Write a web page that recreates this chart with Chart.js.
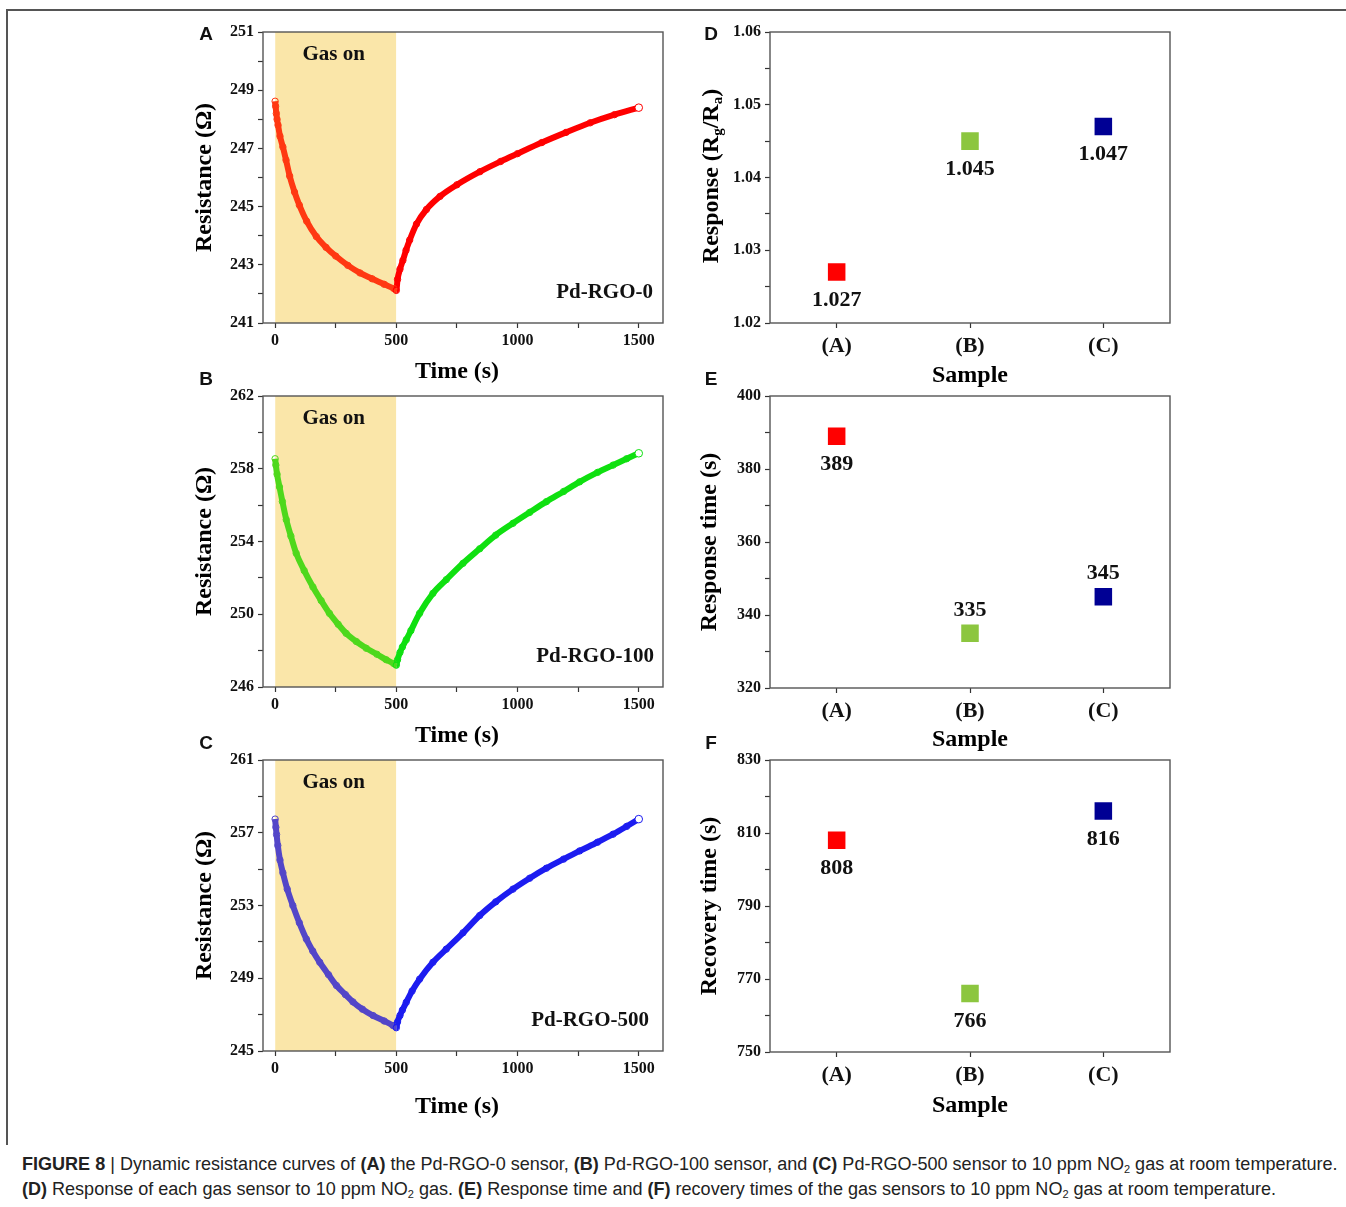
<!DOCTYPE html>
<html>
<head>
<meta charset="utf-8">
<title>Figure 8</title>
<script src="https://cdn.jsdelivr.net/npm/chart.js@4.4.1/dist/chart.umd.min.js"></script>
<style>
  body { margin: 0; background: #fff; }
  #fig { position: relative; width: 1346px; height: 1207px; overflow: hidden; }
  canvas { position: absolute; }
  .rule { position: absolute; background: #555; }
  .letter { position: absolute; transform: translate(-50%, -50%); font: bold 19px "Liberation Sans", Arial, sans-serif; color: #111; }
  .ytitle { position: absolute; transform: translate(-50%, -50%) rotate(-90deg); white-space: nowrap;
            font: bold 24px "Liberation Serif", "Times New Roman", serif; color: #000; }
  .ytitle sub { font-size: 15px; vertical-align: -4px; line-height: 0; }
  #caption { position: absolute; left: 22px; top: 1152px; font-family: "Liberation Sans", Arial, sans-serif;
             font-size: 16px; color: #222; white-space: nowrap; }
  #caption p { margin: 0; height: 25px; line-height: 25px; }
  #caption sub { font-size: 11px; vertical-align: -3px; line-height: 0; }
</style>
</head>
<body>
<div id="fig">
  <div class="rule" style="left:6px; top:9px; width:1340px; height:1.5px"></div>
  <div class="rule" style="left:6px; top:9px; width:1.5px; height:1136px"></div>

  <canvas id="chartA" width="500" height="374" style="left:180px; top:16px"></canvas>
  <canvas id="chartB" width="500" height="374" style="left:180px; top:380px"></canvas>
  <canvas id="chartC" width="500" height="381" style="left:180px; top:744px"></canvas>
  <canvas id="chartD" width="500" height="378" style="left:690px; top:16px"></canvas>
  <canvas id="chartE" width="500" height="378" style="left:690px; top:380px"></canvas>
  <canvas id="chartF" width="500" height="380" style="left:690px; top:744px"></canvas>

  <div class="letter" style="left:206px; top:34px">A</div>
  <div class="letter" style="left:206px; top:379px">B</div>
  <div class="letter" style="left:206px; top:743px">C</div>
  <div class="letter" style="left:711px; top:34px">D</div>
  <div class="letter" style="left:711px; top:379px">E</div>
  <div class="letter" style="left:711px; top:743px">F</div>

  <div class="ytitle" style="left:710px; top:176px">Response (R<sub>g</sub>/R<sub>a</sub>)</div>

  <div id="caption">
    <p id="cap1"><b>FIGURE 8</b> | Dynamic resistance curves of <b>(A)</b> the Pd-RGO-0 sensor, <b>(B)</b> Pd-RGO-100 sensor, and <b>(C)</b> Pd-RGO-500 sensor to 10 ppm NO<sub>2</sub> gas at room temperature.</p>
    <p><b>(D)</b> Response of each gas sensor to 10 ppm NO<sub>2</sub> gas. <b>(E)</b> Response time and <b>(F)</b> recovery times of the gas sensors to 10 ppm NO<sub>2</sub> gas at room temperature.</p>
  </div>
</div>

<script>
// resistance transients, time in s, resistance in ohm
const timeA = [0, 2, 5, 8, 12, 20, 32, 45, 60, 80, 100, 130, 170, 210, 250, 300, 350, 400, 450, 490,
               500, 505, 515, 527, 540, 555, 583, 624, 680, 750, 845, 930, 1000, 1100, 1200, 1300, 1400, 1500];
const resA = [248.62, 248.45, 248.2, 248.0, 247.8, 247.42, 247.05, 246.6, 246.05, 245.5, 245.05, 244.5, 243.97, 243.6, 243.3, 242.98, 242.72, 242.52, 242.33, 242.18,
              242.12, 242.5, 242.85, 243.15, 243.5, 243.85, 244.4, 244.9, 245.35, 245.75, 246.2, 246.55, 246.82, 247.2, 247.55, 247.88, 248.16, 248.4];

const timeB = [0, 3, 8, 18, 30, 46, 65, 87, 120, 156, 190, 224, 260, 293, 335, 376, 420, 458, 490, 500,
               505, 515, 525, 541, 560, 596, 651, 706, 775, 844, 910, 981, 1050, 1119, 1190, 1256, 1330, 1394, 1450, 1500];
const resB = [258.55, 258.2, 257.7, 257.0, 256.2, 255.2, 254.3, 253.35, 252.4, 251.5, 250.75, 250.05, 249.45, 248.95, 248.5, 248.13, 247.8, 247.5, 247.28, 247.2,
              247.5, 247.9, 248.2, 248.6, 249.1, 250.05, 251.15, 251.9, 252.8, 253.6, 254.35, 255.0, 255.6, 256.19, 256.75, 257.28, 257.8, 258.2, 258.55, 258.85];

const timeC = [0, 3, 6, 11, 20, 32, 50, 73, 100, 129, 155, 184, 220, 253, 290, 321, 360, 404, 450, 486, 500,
               505, 515, 525, 541, 565, 596, 651, 706, 775, 844, 910, 981, 1050, 1119, 1190, 1256, 1330, 1394, 1450, 1500];
const resC = [257.75, 257.3, 256.9, 256.3, 255.5, 254.8, 253.9, 253.0, 252.05, 251.15, 250.5, 249.88, 249.2, 248.6, 248.1, 247.7, 247.3, 246.95, 246.65, 246.4, 246.28,
              246.6, 246.95, 247.25, 247.68, 248.3, 248.95, 249.88, 250.6, 251.5, 252.45, 253.2, 253.9, 254.5, 255.05, 255.55, 256.0, 256.48, 256.92, 257.35, 257.75];

const gasOn = [0, 500];

// sensor summary
const samples = ['(A)', '(B)', '(C)'];
const responseRatio = [1.027, 1.045, 1.047];
const responseTime = [389, 335, 345];
const recoveryTime = [808, 766, 816];

// major ticks (a minor tick is put halfway between each pair)
const timeTicks = [0, 500, 1000, 1500];
const resTicksA = [241, 243, 245, 247, 249, 251];
const resTicksB = [246, 250, 254, 258, 262];
const resTicksC = [245, 249, 253, 257, 261];
const ratioTicks = [1.02, 1.03, 1.04, 1.05, 1.06];
const respTicks = [320, 340, 360, 380, 400];
const recTicks = [750, 770, 790, 810, 830];

const SERIF = '"Liberation Serif", "Times New Roman", serif';
const tickFont = { family: SERIF, size: 16, weight: 'bold' };
const titleFont = { family: SERIF, size: 24, weight: 'bold' };
const bandColor = '#fae6a9';
const sampleColors = ['#ff0000', '#8cc63f', '#000094'];

function withMinor(list) {
  const out = [];
  list.forEach((v, i) => {
    out.push({ value: v });
    if (i < list.length - 1) out.push({ value: (v + list[i + 1]) / 2, minor: true });
  });
  return out;
}

// box around the plot area
const plotFrame = {
  id: 'plotFrame',
  afterDraw(chart) {
    const { ctx, chartArea: a } = chart;
    ctx.save();
    ctx.strokeStyle = '#555';
    ctx.lineWidth = 1.4;
    ctx.strokeRect(a.left, a.top, a.width, a.height);
    ctx.restore();
  }
};

// "Gas on" and sensor name inside the resistance panels
const panelText = {
  id: 'panelText',
  afterDatasetsDraw(chart, args, opts) {
    if (!opts.name) return;
    const { ctx, chartArea: a, scales: { x } } = chart;
    ctx.save();
    ctx.fillStyle = '#111';
    ctx.textBaseline = 'middle';
    ctx.font = 'bold 21px ' + SERIF;
    ctx.textAlign = 'center';
    ctx.fillText('Gas on', x.getPixelForValue((gasOn[0] + gasOn[1]) / 2) - 2, a.top + 23);
    ctx.textAlign = 'right';
    ctx.fillText(opts.name, a.right - opts.inset, a.bottom - 30);
    ctx.restore();
  }
};

// value written next to each square
const valueLabels = {
  id: 'valueLabels',
  afterDatasetsDraw(chart, args, opts) {
    if (!opts.places) return;
    const { ctx } = chart;
    const meta = chart.getDatasetMeta(0);
    const values = chart.data.datasets[0].data;
    ctx.save();
    ctx.font = 'bold 22px ' + SERIF;
    ctx.fillStyle = '#111';
    ctx.textAlign = 'center';
    ctx.textBaseline = 'middle';
    meta.data.forEach((pt, i) => {
      const dy = opts.places[i] === 'above' ? -23 : 28;
      ctx.fillText(values[i].toFixed(opts.decimals), pt.x, pt.y + dy);
    });
    ctx.restore();
  }
};

Chart.register(plotFrame, panelText, valueLabels);

function yAxis(list, fmt, title, width, titlePad) {
  return {
    min: list[0],
    max: list[list.length - 1],
    afterBuildTicks: s => { s.ticks = withMinor(list); },
    afterFit: s => { s.width = width; },
    grid: { drawOnChartArea: false, tickLength: 5, tickColor: '#333', tickWidth: 1.2 },
    border: { display: false },
    ticks: { padding: 4, color: '#111', font: tickFont, autoSkip: false,
             callback: (v, i, t) => (t[i] && t[i].minor) ? '' : fmt(v) },
    title: { display: !!title, text: title, color: '#000', font: titleFont, padding: { top: titlePad, bottom: 0 } }
  };
}

function resistancePanel(id, times, values, ticks, colors, name, inset, xHeight) {
  const yMax = ticks[ticks.length - 1];
  const pts = times.map((t, i) => ({ x: t, y: values[i] }));
  const last = times.length - 1;
  new Chart(document.getElementById(id), {
    type: 'line',
    data: {
      datasets: [
        {
          data: pts,
          borderColor: colors[1],
          segment: { borderColor: c => c.p1.parsed.x <= gasOn[1] ? colors[0] : colors[1] },
          borderWidth: 6,
          cubicInterpolationMode: 'monotone',
          pointRadius: times.map((t, i) => i === last ? 3.8 : 3.2),
          pointBorderWidth: 1,
          pointBackgroundColor: times.map((t, i) => i === last ? '#ffffff' : 'rgba(255,255,255,0)'),
          pointBorderColor: times.map(t => t < gasOn[1] ? colors[0] : colors[1]),
          order: 1
        },
        {
          data: gasOn.map(t => ({ x: t, y: yMax })),
          fill: 'start',
          backgroundColor: bandColor,
          borderWidth: 0,
          pointRadius: 0,
          order: 2
        }
      ]
    },
    options: {
      responsive: false,
      animation: false,
      devicePixelRatio: 1,
      layout: { padding: { top: 16, right: 17, bottom: 4, left: 0 } },
      plugins: { legend: { display: false }, tooltip: { enabled: false }, panelText: { name: name, inset: inset } },
      scales: {
        x: {
          type: 'linear',
          min: -50,
          max: 1600,
          afterBuildTicks: s => { s.ticks = withMinor(timeTicks); },
          afterFit: s => { s.height = xHeight; },
          grid: { drawOnChartArea: false, tickLength: 5, tickColor: '#333', tickWidth: 1.2 },
          border: { display: false },
          ticks: { padding: 3, color: '#111', font: tickFont, maxRotation: 0, autoSkip: false,
                   callback: (v, i, t) => (t[i] && t[i].minor) ? '' : String(v) },
          // trailing spaces nudge the centred title a little to the left
          title: { display: true, text: 'Time (s)  ', color: '#000', font: titleFont, padding: { top: 0, bottom: 0 } }
        },
        y: yAxis(ticks, v => String(v), 'Resistance (\u03a9)', 83, 10.6)
      }
    }
  });
}

function samplePanel(id, values, ticks, fmt, title, decimals, places, xHeight) {
  new Chart(document.getElementById(id), {
    type: 'line',
    data: {
      labels: samples,
      datasets: [{
        data: values,
        showLine: false,
        pointStyle: 'rect',
        pointRadius: 12.4,
        pointBorderWidth: 0,
        pointBackgroundColor: sampleColors,
        pointBorderColor: sampleColors
      }]
    },
    options: {
      responsive: false,
      animation: false,
      devicePixelRatio: 1,
      layout: { padding: { top: 16, right: 20, bottom: 4, left: 0 } },
      plugins: { legend: { display: false }, tooltip: { enabled: false },
                 valueLabels: { places: places, decimals: decimals } },
      scales: {
        x: {
          type: 'category',
          offset: true,
          afterFit: s => { s.height = xHeight; },
          grid: { offset: false, drawOnChartArea: false, tickLength: 5, tickColor: '#333', tickWidth: 1.2 },
          border: { display: false },
          ticks: { padding: 5, color: '#111', font: { family: SERIF, size: 22, weight: 'bold' }, maxRotation: 0 },
          title: { display: true, text: 'Sample', color: '#000', font: titleFont, padding: { top: 0, bottom: 0 } }
        },
        y: yAxis(ticks, fmt, title, 80, 5.6)
      }
    }
  });
}

resistancePanel('chartA', timeA, resA, resTicksA, ['#ff3812', '#ff0000'], 'Pd-RGO-0', 10, 63);
resistancePanel('chartB', timeB, resB, resTicksB, ['#4ed81c', '#0fe010'], 'Pd-RGO-100', 9, 63);
resistancePanel('chartC', timeC, resC, resTicksC, ['#5346c8', '#1c1cf0'], 'Pd-RGO-500', 14, 70);

samplePanel('chartD', responseRatio, ratioTicks, v => v.toFixed(2), '', 3, ['below', 'below', 'below'], 67);
samplePanel('chartE', responseTime, respTicks, v => String(v), 'Response time (s)', 0, ['below', 'above', 'above'], 66);
samplePanel('chartF', recoveryTime, recTicks, v => String(v), 'Recovery time (s)', 0, ['below', 'below', 'below'], 68);

// stretch the caption to the width of the figure
const cap = document.getElementById('caption');
const line1 = document.getElementById('cap1');
const scale = 1318 / line1.getBoundingClientRect().width;
cap.style.fontSize = (16 * scale).toFixed(2) + 'px';
</script>
</body>
</html>
